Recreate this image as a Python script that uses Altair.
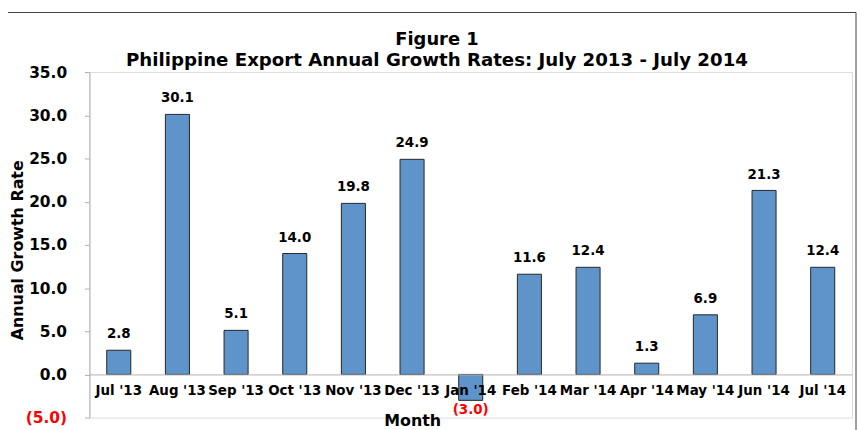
import altair as alt
import pandas as pd

months = ["Jul '13", "Aug '13", "Sep '13", "Oct '13", "Nov '13", "Dec '13", "Jan '14",
          "Feb '14", "Mar '14", "Apr '14", "May '14", "Jun '14", "Jul '14"]
growth = [2.8, 30.1, 5.1, 14.0, 19.8, 24.9, -3.0, 11.6, 12.4, 1.3, 6.9, 21.3, 12.4]
y_ticks = [-5, 0, 5, 10, 15, 20, 25, 30, 35]

df = pd.DataFrame({"month": months, "growth": growth})
FONT = "DejaVu Sans"
BAR = "#5E94C9"
AXIS_GREY = "#B0B0B0"

x_enc = alt.X(
    "month:N", sort=months,
    scale=alt.Scale(paddingInner=0.59, paddingOuter=0.295),
    axis=alt.Axis(
        title="Month", orient="bottom", offset=-43.5,
        domainColor=AXIS_GREY, ticks=False, labelAngle=0,
        labelFont=FONT, labelFontSize=13.5, labelFontWeight="bold", labelColor="black",
        labelPadding=9,
        titleFont=FONT, titleFontSize=16, titleFontWeight="bold", titleColor="black",
        titleX=325, titleY=46, titleBaseline="middle", titleAlign="center",
        zindex=1,
    ),
)

y_enc = alt.Y(
    "growth:Q",
    scale=alt.Scale(domain=[-5, 35], nice=False, zero=False),
    axis=alt.Axis(
        values=y_ticks, grid=False, title="Annual Growth Rate",
        labelExpr="datum.value < 0 ? '(' + format(-datum.value, '.1f') + ')' : format(datum.value, '.1f')",
        labelColor={"condition": {"test": "datum.value < 0", "value": "#FF0000"}, "value": "black"},
        labelFont=FONT, labelFontSize=15.5, labelFontWeight="bold", labelPadding=18,
        domainColor=AXIS_GREY, tickColor=AXIS_GREY, tickSize=5,
        titleFont=FONT, titleFontSize=16, titleFontWeight="bold", titleColor="black",
        titleAngle=-90, titleX=-72, titleY=179, titleBaseline="middle", titleAlign="center",
    ),
)

frame = alt.Chart(alt.Data(values=[{}])).mark_rect(
    fill=None, stroke="#404040", strokeWidth=1
).encode(
    x=alt.value(-83), x2=alt.value(772), y=alt.value(-60), y2=alt.value(430)
)

bars = alt.Chart(df).mark_bar(fill=BAR, stroke="#262626", strokeWidth=1).encode(
    x=x_enc, y=y_enc
)

pos_text = alt.Chart(df).transform_filter("datum.growth >= 0").mark_text(
    font=FONT, fontSize=13.5, fontWeight="bold", color="black", baseline="middle", dy=-16
).encode(
    x=alt.X("month:N", sort=months), y=alt.Y("growth:Q"), text=alt.Text("growth:Q", format=".1f")
)

neg_text = alt.Chart(df).transform_filter("datum.growth < 0").transform_calculate(
    lbl="'(' + format(-datum.growth, '.1f') + ')'"
).mark_text(
    font=FONT, fontSize=13.5, fontWeight="bold", color="#FF0000", baseline="middle", dy=10
).encode(
    x=alt.X("month:N", sort=months), y=alt.Y("growth:Q"), text="lbl:N"
)

chart = alt.layer(frame, bars, pos_text, neg_text).properties(
    width=768, height=348,
    autosize=alt.AutoSizeParams(type="none"),
    padding={"left": 82, "top": 63, "right": 5, "bottom": 20},
    title=alt.Title(
        "Figure 1",
        subtitle="Philippine Export Annual Growth Rates: July 2013 - July 2014",
        anchor="middle", frame="group", dx=-34, offset=-58,
        font=FONT, fontSize=18, fontWeight="bold", color="black",
        subtitleFont=FONT, subtitleFontSize=18.3, subtitleFontWeight="bold", subtitleColor="black",
        subtitlePadding=3,
    ),
).configure_view(stroke=None).configure(background="white")

chart.save("out.html", embed_options={"renderer": "svg", "actions": False})
